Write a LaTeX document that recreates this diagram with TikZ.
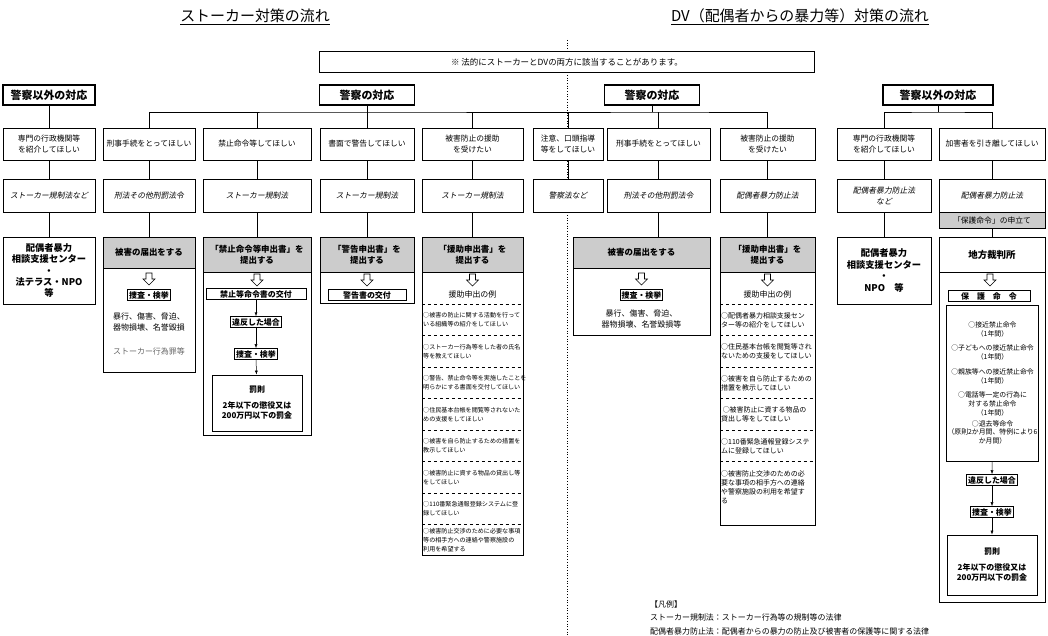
\documentclass[tikz,border=0pt]{standalone}
\usepackage{fontspec}
\setmainfont{Noto Sans CJK JP}
\newfontfamily\jpi{Noto Sans CJK JP}[FakeSlant=0.2]
\usetikzlibrary{arrows.meta}
\newcommand\harrow[2]{\draw[line width=0.6pt,fill=white] ({#1-3},{#2}) -- ({#1+3},{#2}) -- ({#1+3},{#2+6}) -- ({#1+6},{#2+6}) -- ({#1},{#2+12}) -- ({#1-6},{#2+6}) -- ({#1-3},{#2+6}) -- cycle;}
\begin{document}
\begin{tikzpicture}[x=1bp,y=-1bp,
  box/.style={draw,line width=0.8pt,align=center,inner sep=1pt},
  hdr/.style={box,line width=1.3pt,font=\fontsize{11}{12}\selectfont\bfseries,minimum height=20bp},
  req/.style={box,font=\fontsize{7.8}{10.5}\selectfont,minimum height=32bp},
  law/.style={box,font=\fontsize{7.8}{10.5}\selectfont\jpi,minimum height=33bp},
  shd/.style={box,fill=black!20,font=\fontsize{8.5}{11}\selectfont\bfseries},
  outer/.style={draw,line width=0.8pt,inner sep=0pt},
  sm/.style={box,font=\fontsize{8}{9}\selectfont\bfseries,line width=0.9pt,inner sep=1.5pt},
  item/.style={align=left,anchor=west,inner sep=1pt},
  con/.style={line width=0.9pt},
  arr/.style={line width=0.5pt,-{Latex[length=4bp,width=3bp]}}]
\useasboundingbox (0,0) rectangle (1048,636);
\draw[line width=0.7pt,dotted] (567,40) -- (567,636);
\node[font=\fontsize{15}{17}\selectfont] (t1) at (255,17) {\underline{ストーカー対策の流れ}};
\node[font=\fontsize{15}{17}\selectfont] (t2) at (800,17) {\underline{DV（配偶者からの暴力等）対策の流れ}};
\node[box,fill=white,minimum width=495bp,minimum height=21bp,font=\fontsize{8.5}{10}\selectfont] (note) at (567,62) {※ 法的にストーカーとDVの両方に該当することがあります。};
% headers
\node[hdr,minimum width=92bp] (hL1) at (49,95) {警察以外の対応};
\node[hdr,minimum width=95bp] (hP1) at (367,95) {警察の対応};
\node[hdr,minimum width=95bp] (hP2) at (652,95) {警察の対応};
\node[hdr,minimum width=110bp] (hN2) at (938,95) {警察以外の対応};
% row 2
\node[req,minimum width=92bp] (a1) at (49,144) {専門の行政機関等\\を紹介してほしい};
\node[req,minimum width=92bp] (a2) at (149,144) {刑事手続をとってほしい};
\node[req,minimum width=108bp] (a3) at (257,144) {禁止命令等してほしい};
\node[req,minimum width=94bp] (a4) at (367,144) {書面で警告してほしい};
\node[req,minimum width=101bp] (a5) at (472.5,144) {被害防止の援助\\を受けたい};
\node[req,minimum width=70bp,fill=white] (a6) at (568,144) {注意、口頭指導\\等をしてほしい};
\node[req,minimum width=103bp] (a7) at (658.5,144) {刑事手続をとってほしい};
\node[req,minimum width=95bp] (a8) at (767.5,144) {被害防止の援助\\を受けたい};
\node[req,minimum width=94bp] (a9) at (884,144) {専門の行政機関等\\を紹介してほしい};
\node[req,minimum width=106bp] (a10) at (992,144) {加害者を引き離してほしい};
% row 3
\node[law,minimum width=92bp] (b1) at (49,196) {ストーカー規制法など};
\node[law,minimum width=92bp] (b2) at (149,196) {刑法その他刑罰法令};
\node[law,minimum width=108bp] (b3) at (257,196) {ストーカー規制法};
\node[law,minimum width=94bp] (b4) at (367,196) {ストーカー規制法};
\node[law,minimum width=101bp] (b5) at (472.5,196) {ストーカー規制法};
\node[law,minimum width=70bp,fill=white] (b6) at (568,196) {警察法など};
\node[law,minimum width=103bp] (b7) at (658.5,196) {刑法その他刑罰法令};
\node[law,minimum width=95bp] (b8) at (767.5,196) {配偶者暴力防止法};
\node[law,minimum width=94bp] (b9) at (884,196) {配偶者暴力防止法\\など};
\node[law,minimum width=106bp] (b10) at (992,196) {配偶者暴力防止法};
\node[box,fill=black!20,minimum width=106bp,minimum height=16bp,font=\fontsize{7.8}{9}\selectfont] (c10) at (992,220.5) {「保護命令」の申立て};
% buses
\coordinate (busL) at (367,112);
\coordinate (busR) at (652,112);
\coordinate (busN) at (938,112);
\draw[con] (a2.north) |- (busL) -| (a6.north);
\draw[con] (hP1.south) -- (a4.north);
\draw[con] (a3.north) -- (a3.north |- busL);
\draw[con] (a5.north) -- (a5.north |- busL);
\draw[con] (a6.north) |- (busR) -| (a8.north);
\draw[con] (hP2.south) -- (busR);
\draw[con] (a7.north) -- (a7.north |- busR);
\draw[con] (a9.north) |- (busN) -| (a10.north);
\draw[con] (hN2.south) -- (busN);
\draw[con] (hL1) -- (a1);
\foreach \i in {1,...,10} {\draw[con] (a\i) -- (b\i);}
% row 4 column L1
\node[box,minimum width=92bp,minimum height=67bp,font=\fontsize{9.3}{11.5}\selectfont\bfseries] (d1) at (49,270.5) {配偶者暴力\\相談支援センター\\・\\法テラス・NPO\\等};
\draw[con] (b1) -- (d1);
% L2
\node[outer,minimum width=92bp,minimum height=135bp] (e2) at (149,304.5) {};
\node[shd,minimum width=92bp,minimum height=31bp] (f2) at (149,252.5) {被害の届出をする};
\draw[con] (b2) -- (f2);
\harrow{149}{273}
\node[sm] (g2) at (149,295) {捜査・検挙};
\node[font=\fontsize{8}{10.5}\selectfont,align=center] (t2a) at (149,322) {暴行、傷害、脅迫、\\器物損壊、名誉毀損};
\node[font=\fontsize{8}{10}\selectfont,text=black!60] (t2b) at (149,351) {ストーカー行為罪等};
% L3
\node[outer,minimum width=108bp,minimum height=198bp] (e3) at (257,336) {};
\node[shd,minimum width=108bp,minimum height=35bp] (f3) at (257,254.5) {「禁止命令等申出書」を\\提出する};
\draw[con] (b3) -- (f3);
\harrow{257}{274}
\node[sm,minimum width=100bp] (g3) at (256,294) {禁止等命令書の交付};
\node[sm] (h3) at (256,322) {違反した場合};
\node[sm] (i3) at (256,354) {捜査・検挙};
\node[box,minimum width=90bp,minimum height=56bp,font=\fontsize{8}{10.5}\selectfont\bfseries] (j3) at (257,403) {罰則\\[5pt]2年以下の懲役又は\\200万円以下の罰金};
\draw[arr] (g3) -- (h3);
\draw[arr] (h3) -- (i3);
\draw[arr] (i3) -- (j3);
% L4
\node[outer,minimum width=94bp,minimum height=66bp] (e4) at (367,270) {};
\node[shd,minimum width=94bp,minimum height=35bp] (f4) at (367,254.5) {「警告申出書」を\\提出する};
\draw[con] (b4) -- (f4);
\harrow{367}{274}
\node[sm,minimum width=78bp] (g4) at (367,295) {警告書の交付};
% L5
\node[outer,minimum width=101bp,minimum height=318bp] (e5) at (472.5,396) {};
\node[shd,minimum width=101bp,minimum height=35bp] (f5) at (472.5,254.5) {「援助申出書」を\\提出する};
\draw[con] (b5) -- (f5);
\harrow{472.5}{274}
\node[font=\fontsize{8}{9}\selectfont] (x5) at (472.5,294) {援助申出の例};
\foreach \y in {304,335.5,367,398.5,430,461.5,493,524.5} {\draw[dashed,line width=0.5pt] (422,\y) -- (523,\y);}
\begin{scope}[every node/.style={item,font=\fontsize{6.1}{9}\selectfont}]
\node (p1) at (422,320) {○被害の防止に関する活動を行って\\いる組織等の紹介をしてほしい};
\node (p2) at (422,351.5) {○ストーカー行為等をした者の氏名\\等を教えてほしい};
\node (p3) at (422,383) {○警告、禁止命令等を実施したことを\\明らかにする書面を交付してほしい};
\node (p4) at (422,414.5) {○住民基本台帳を閲覧等されないた\\めの支援をしてほしい};
\node (p5) at (422,446) {○被害を自ら防止するための措置を\\教示してほしい};
\node (p6) at (422,477.5) {○被害防止に資する物品の貸出し等\\をしてほしい};
\node (p7) at (422,509) {○110番緊急通報登録システムに登\\録してほしい};
\node (p8) at (422,540) {○被害防止交渉のために必要な事項\\等の相手方への連絡や警察施設の\\利用を希望する};
\end{scope}
% R1
\node[outer,minimum width=137bp,minimum height=98bp] (e7) at (641.5,286) {};
\node[shd,minimum width=137bp,minimum height=31bp] (f7) at (641.5,252.5) {被害の届出をする};
\draw[con] (b7.south) -- (b7.south |- f7.north);
\harrow{641.5}{273}
\node[sm] (g7) at (641.5,295) {捜査・検挙};
\node[font=\fontsize{8}{10.5}\selectfont,align=center] (t7) at (641.5,319) {暴行、傷害、脅迫、\\器物損壊、名誉毀損等};
% R2
\node[outer,minimum width=95bp,minimum height=288bp] (e8) at (767.5,381) {};
\node[shd,minimum width=95bp,minimum height=35bp] (f8) at (767.5,254.5) {「援助申出書」を\\提出する};
\draw[con] (b8) -- (f8);
\harrow{767.5}{274}
\node[font=\fontsize{8}{9}\selectfont] (x8) at (767.5,294) {援助申出の例};
\foreach \y in {304,335.5,367,398.5,430,461.5} {\draw[dashed,line width=0.5pt] (720,\y) -- (815,\y);}
\begin{scope}[every node/.style={item,font=\fontsize{7}{9}\selectfont}]
\node (q1) at (720,320) {○配偶者暴力相談支援セン\\ター等の紹介をしてほしい};
\node (q2) at (720,351.5) {○住民基本台帳を閲覧等され\\ないための支援をしてほしい};
\node (q3) at (720,383) {○被害を自ら防止するための\\措置を教示してほしい};
\node (q4) at (720,414.5) {\ ○被害防止に資する物品の\\貸出し等をしてほしい};
\node (q5) at (720,446) {○110番緊急通報登録システ\\ムに登録してほしい};
\node (q6) at (720,487) {○被害防止交渉のための必\\要な事項の相手方への連絡\\や警察施設の利用を希望す\\る};
\end{scope}
% R3
\node[box,minimum width=94bp,minimum height=67bp,font=\fontsize{9.3}{11.5}\selectfont\bfseries] (d9) at (884,270.5) {配偶者暴力\\相談支援センター\\・\\NPO\quad 等};
\draw[con] (b9) -- (d9);
% R4
\node[outer,minimum width=106bp,minimum height=365bp] (e10) at (992,419.5) {};
\node[box,minimum width=106bp,minimum height=35bp,font=\fontsize{9.5}{11}\selectfont\bfseries] (f10) at (992,254.5) {地方裁判所};
\draw[con] (c10) -- (f10);
\harrow{990}{274}
\node[sm,minimum width=82bp] (g10) at (989,296) {保\quad 護\quad 命\quad 令};
\node[box,minimum width=91bp,minimum height=156bp,font=\fontsize{6.9}{8.8}\selectfont] (k10) at (992.5,383) {○接近禁止命令\\（1年間）\\[6pt]○子どもへの接近禁止命令\\（1年間）\\[6pt]○親族等への接近禁止命令\\（1年間）\\[6pt]○電話等一定の行為に\\対する禁止命令\\（1年間）\\[2pt]○退去等命令\\（原則2か月間、特例により6\\か月間）};
\node[sm] (l10) at (992,480) {違反した場合};
\node[sm] (m10) at (992,512) {捜査・検挙};
\node[box,minimum width=90bp,minimum height=60bp,font=\fontsize{8}{10.5}\selectfont\bfseries] (n10) at (992,565) {罰則\\[5pt]2年以下の懲役又は\\200万円以下の罰金};
\draw[arr] (k10) -- (l10);
\draw[arr] (l10) -- (m10);
\draw[arr] (m10) -- (n10);
% legend
\begin{scope}[every node/.style={anchor=west,inner sep=0pt,font=\fontsize{8}{9}\selectfont}]
\node (lg0) at (650,604) {【凡例】};
\node (lg1) at (650,617) {ストーカー規制法：ストーカー行為等の規制等の法律};
\node (lg2) at (650,631) {配偶者暴力防止法：配偶者からの暴力の防止及び被害者の保護等に関する法律};
\end{scope}
\end{tikzpicture}
\end{document}
